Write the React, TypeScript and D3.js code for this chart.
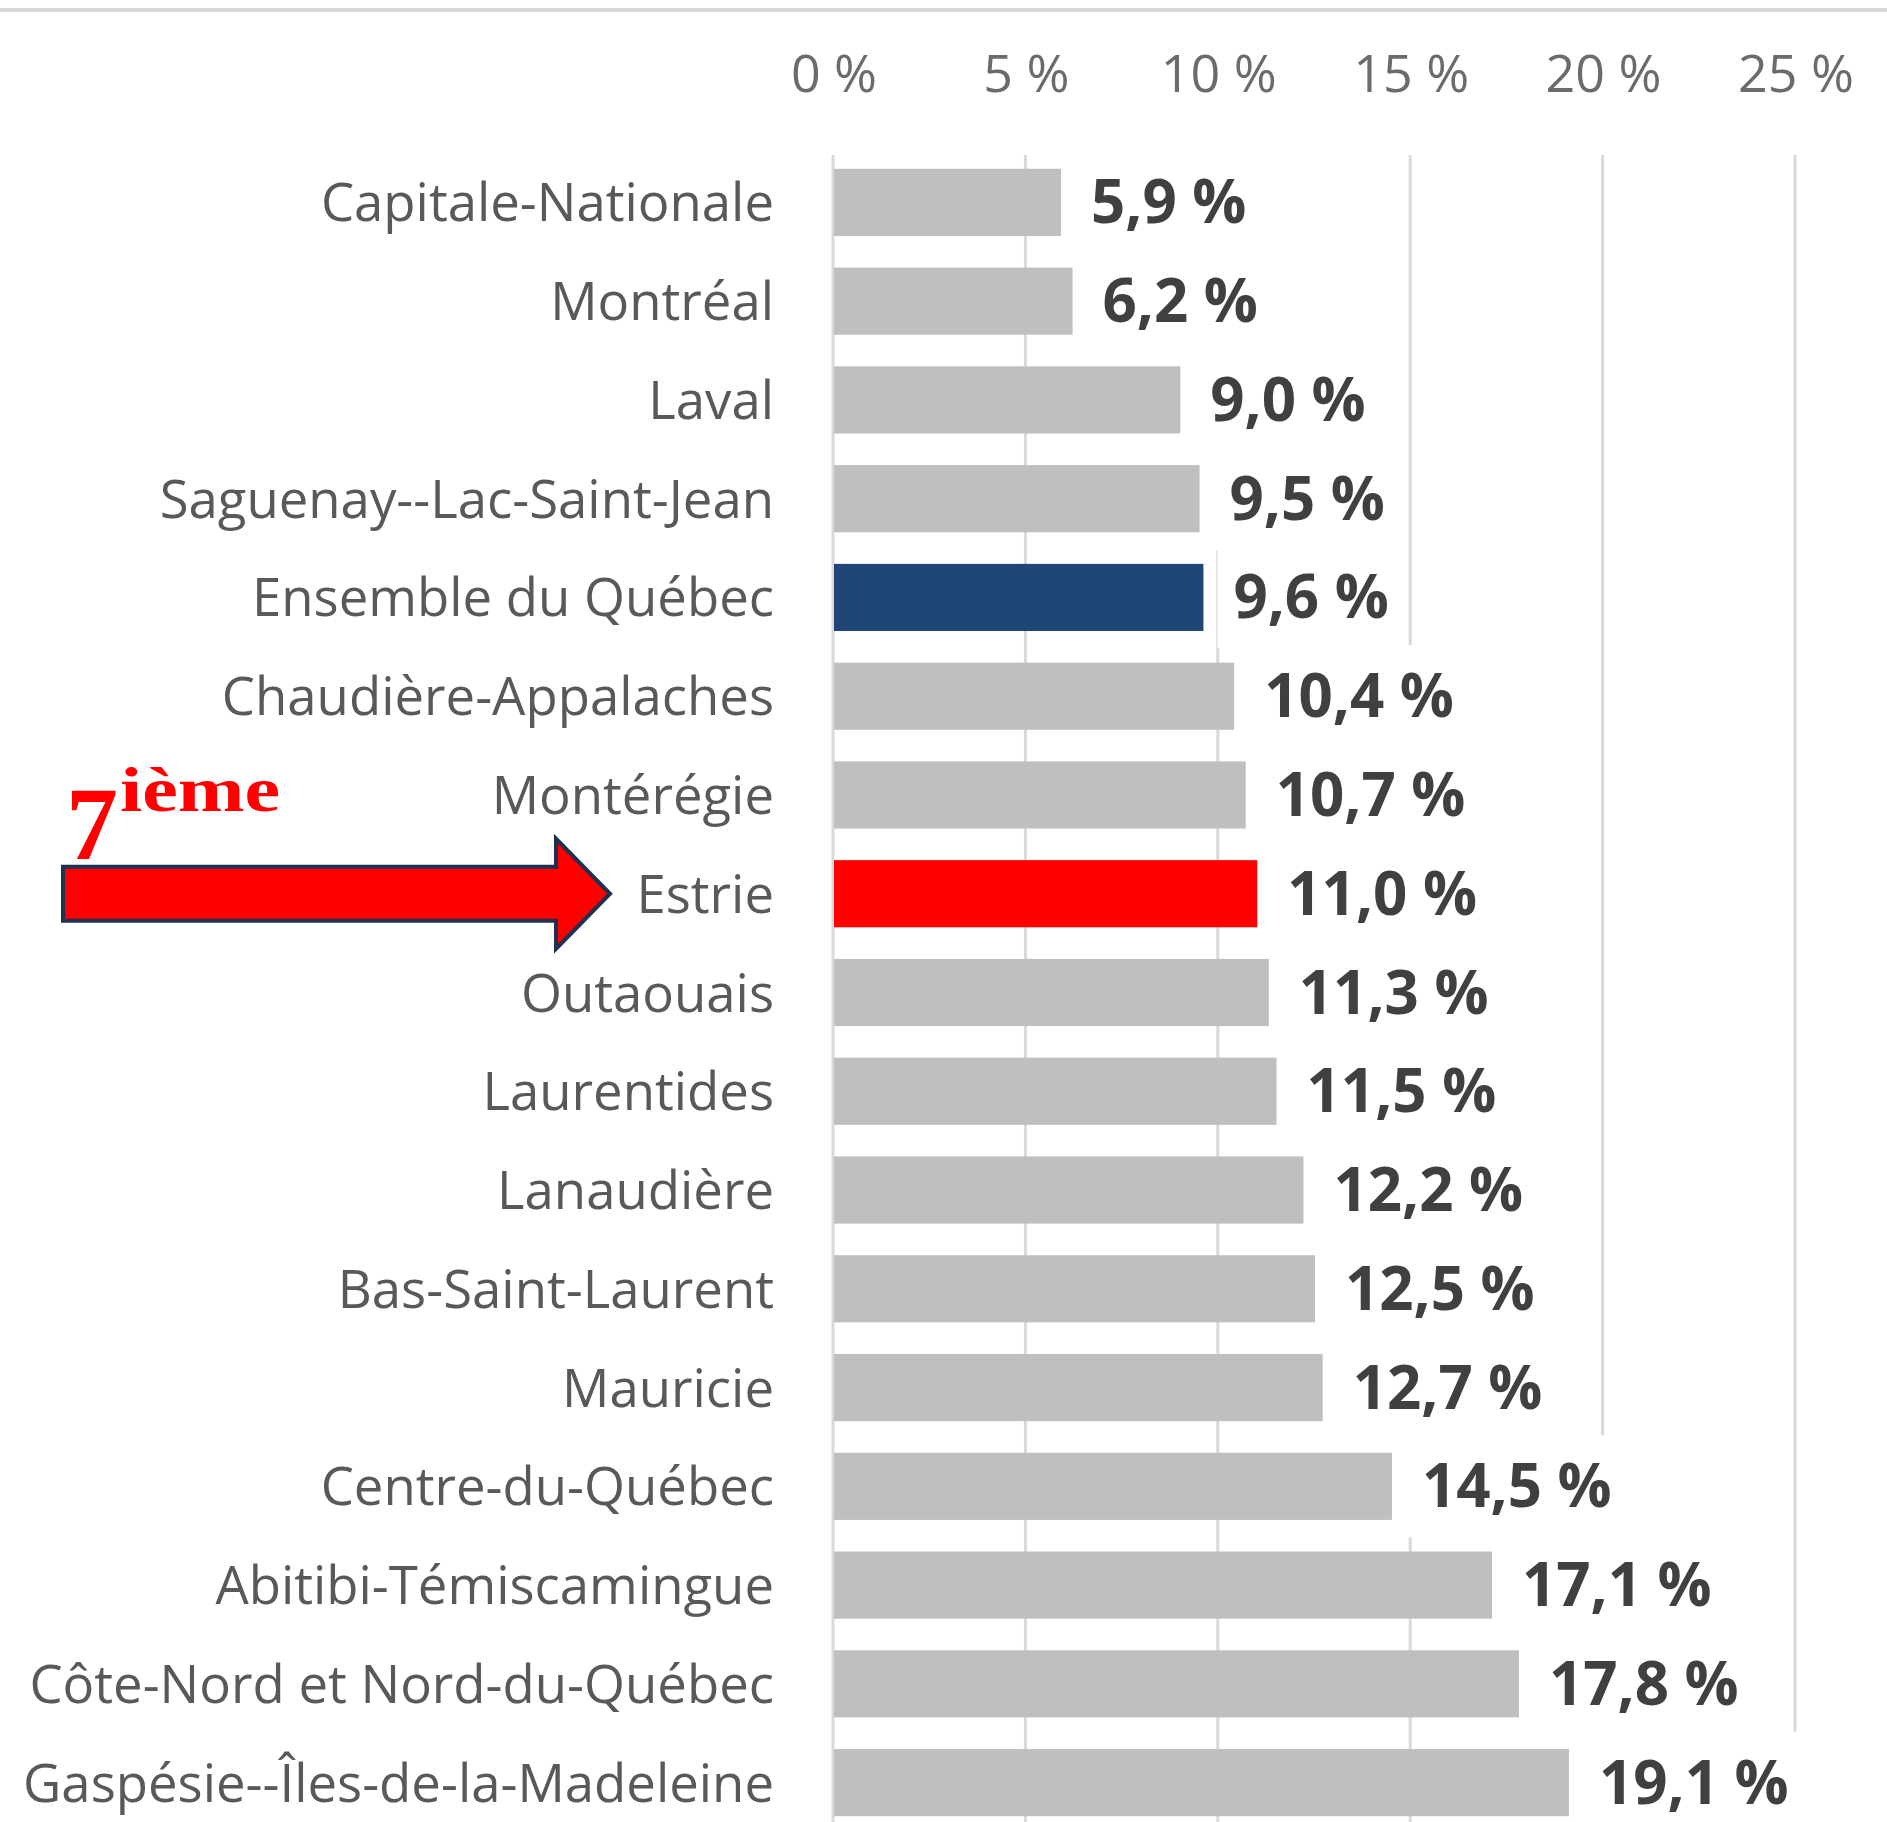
import { useEffect, useRef } from "react";
import * as d3 from "d3";

const regions = [
  "Capitale-Nationale",
  "Montréal",
  "Laval",
  "Saguenay--Lac-Saint-Jean",
  "Ensemble du Québec",
  "Chaudière-Appalaches",
  "Montérégie",
  "Estrie",
  "Outaouais",
  "Laurentides",
  "Lanaudière",
  "Bas-Saint-Laurent",
  "Mauricie",
  "Centre-du-Québec",
  "Abitibi-Témiscamingue",
  "Côte-Nord et Nord-du-Québec",
  "Gaspésie--Îles-de-la-Madeleine",
];
const rates = [5.9, 6.2, 9.0, 9.5, 9.6, 10.4, 10.7, 11.0, 11.3, 11.5, 12.2, 12.5, 12.7, 14.5, 17.1, 17.8, 19.1];
const ticks = [0, 5, 10, 15, 20, 25];
const highlightColors: Record<string, string> = {
  "Ensemble du Québec": "#1f4677",
  Estrie: "#ff0000",
};
const rankLabel = ["7", "ième"];
const rankRegion = "Estrie";

const W = 1887;
const H = 1822;
const FONT = "'Open Sans', 'Noto Sans', sans-serif";

export default function App() {
  const ref = useRef<SVGSVGElement>(null);

  useEffect(() => {
    const svg = d3.select(ref.current);
    svg.selectAll("*").remove();

    const x = d3.scaleLinear().domain([0, 25]).range([834, 1796]);
    const y = d3
      .scaleBand()
      .domain(regions)
      .range([153, 1832])
      .paddingInner(0.32)
      .paddingOuter(0.16);
    const bw = y.bandwidth();
    const cy = (d: string) => y(d)! + bw / 2;
    const fmt = (v: number) => d3.format(".1f")(v).replace(".", ",") + " %";

    // top border
    svg
      .append("line")
      .attr("x1", 0)
      .attr("x2", W)
      .attr("y1", 10)
      .attr("y2", 10)
      .attr("stroke", "#d9d9d9")
      .attr("stroke-width", 4);

    // gridlines
    svg
      .append("g")
      .selectAll("line")
      .data(ticks)
      .enter()
      .append("line")
      .attr("x1", (d) => x(d) - 1)
      .attr("x2", (d) => x(d) - 1)
      .attr("y1", 155)
      .attr("y2", H)
      .attr("stroke", "#d9d9d9")
      .attr("stroke-width", 3);

    // tick labels
    svg
      .append("g")
      .selectAll("text")
      .data(ticks)
      .enter()
      .append("text")
      .attr("x", (d) => x(d))
      .attr("y", 92)
      .attr("text-anchor", "middle")
      .attr("font-family", FONT)
      .attr("font-size", 52)
      .attr("fill", "#6b6b6b")
      .text((d) => `${d} %`);

    // value labels (white boxes hide gridlines)
    const labels = svg
      .append("g")
      .selectAll("g")
      .data(regions)
      .enter()
      .append("g");
    const texts = labels
      .append("text")
      .attr("x", (d, i) => x(rates[i]) + 30)
      .attr("y", (d) => cy(d) + 21)
      .attr("font-family", FONT)
      .attr("font-size", 60)
      .attr("font-weight", 700)
      .attr("fill", "#404040")
      .text((d, i) => fmt(rates[i]));
    texts.each(function (d) {
      const b = (this as SVGTextElement).getBBox();
      d3.select((this as SVGTextElement).parentNode as SVGGElement)
        .insert("rect", "text")
        .attr("x", b.x - 16)
        .attr("y", cy(d) - 51)
        .attr("width", b.width + 32)
        .attr("height", 102)
        .attr("fill", "#ffffff");
    });

    // bars
    svg
      .append("g")
      .selectAll("rect")
      .data(regions)
      .enter()
      .append("rect")
      .attr("x", x(0))
      .attr("y", (d) => y(d)!)
      .attr("width", (d, i) => x(rates[i]) - x(0))
      .attr("height", bw)
      .attr("fill", (d) => highlightColors[d] ?? "#bfbfbf");

    // category labels
    svg
      .append("g")
      .selectAll("text")
      .data(regions)
      .enter()
      .append("text")
      .attr("x", 774)
      .attr("y", (d) => cy(d) + 19)
      .attr("text-anchor", "end")
      .attr("font-family", FONT)
      .attr("font-size", 52.7)
      .attr("fill", "#595959")
      .text((d) => d);

    // arrow annotation
    const ay = cy(rankRegion);
    const arrow = d3.path();
    arrow.moveTo(63, ay - 27);
    arrow.lineTo(556, ay - 27);
    arrow.lineTo(556, ay - 55);
    arrow.lineTo(610, ay);
    arrow.lineTo(556, ay + 55);
    arrow.lineTo(556, ay + 27);
    arrow.lineTo(63, ay + 27);
    arrow.closePath();
    svg
      .append("path")
      .attr("d", arrow.toString())
      .attr("fill", "#ff0000")
      .attr("stroke", "#1f3050")
      .attr("stroke-width", 4);

    svg
      .append("text")
      .attr("x", 66)
      .attr("y", ay - 35)
      .attr("font-family", "'Liberation Serif', serif")
      .attr("font-weight", 700)
      .attr("font-size", 104)
      .attr("fill", "#ff0000")
      .text(rankLabel[0]);
    svg
      .append("text")
      .attr("x", 120)
      .attr("y", ay - 83)
      .attr("font-family", "'Liberation Serif', serif")
      .attr("font-weight", 700)
      .attr("font-size", 64)
      .attr("textLength", 160)
      .attr("lengthAdjust", "spacingAndGlyphs")
      .attr("fill", "#ff0000")
      .text(rankLabel[1]);
  }, []);

  return (
    <svg
      ref={ref}
      width={W}
      height={H}
      style={{ position: "absolute", left: 0, top: 0, background: "#ffffff" }}
    />
  );
}
